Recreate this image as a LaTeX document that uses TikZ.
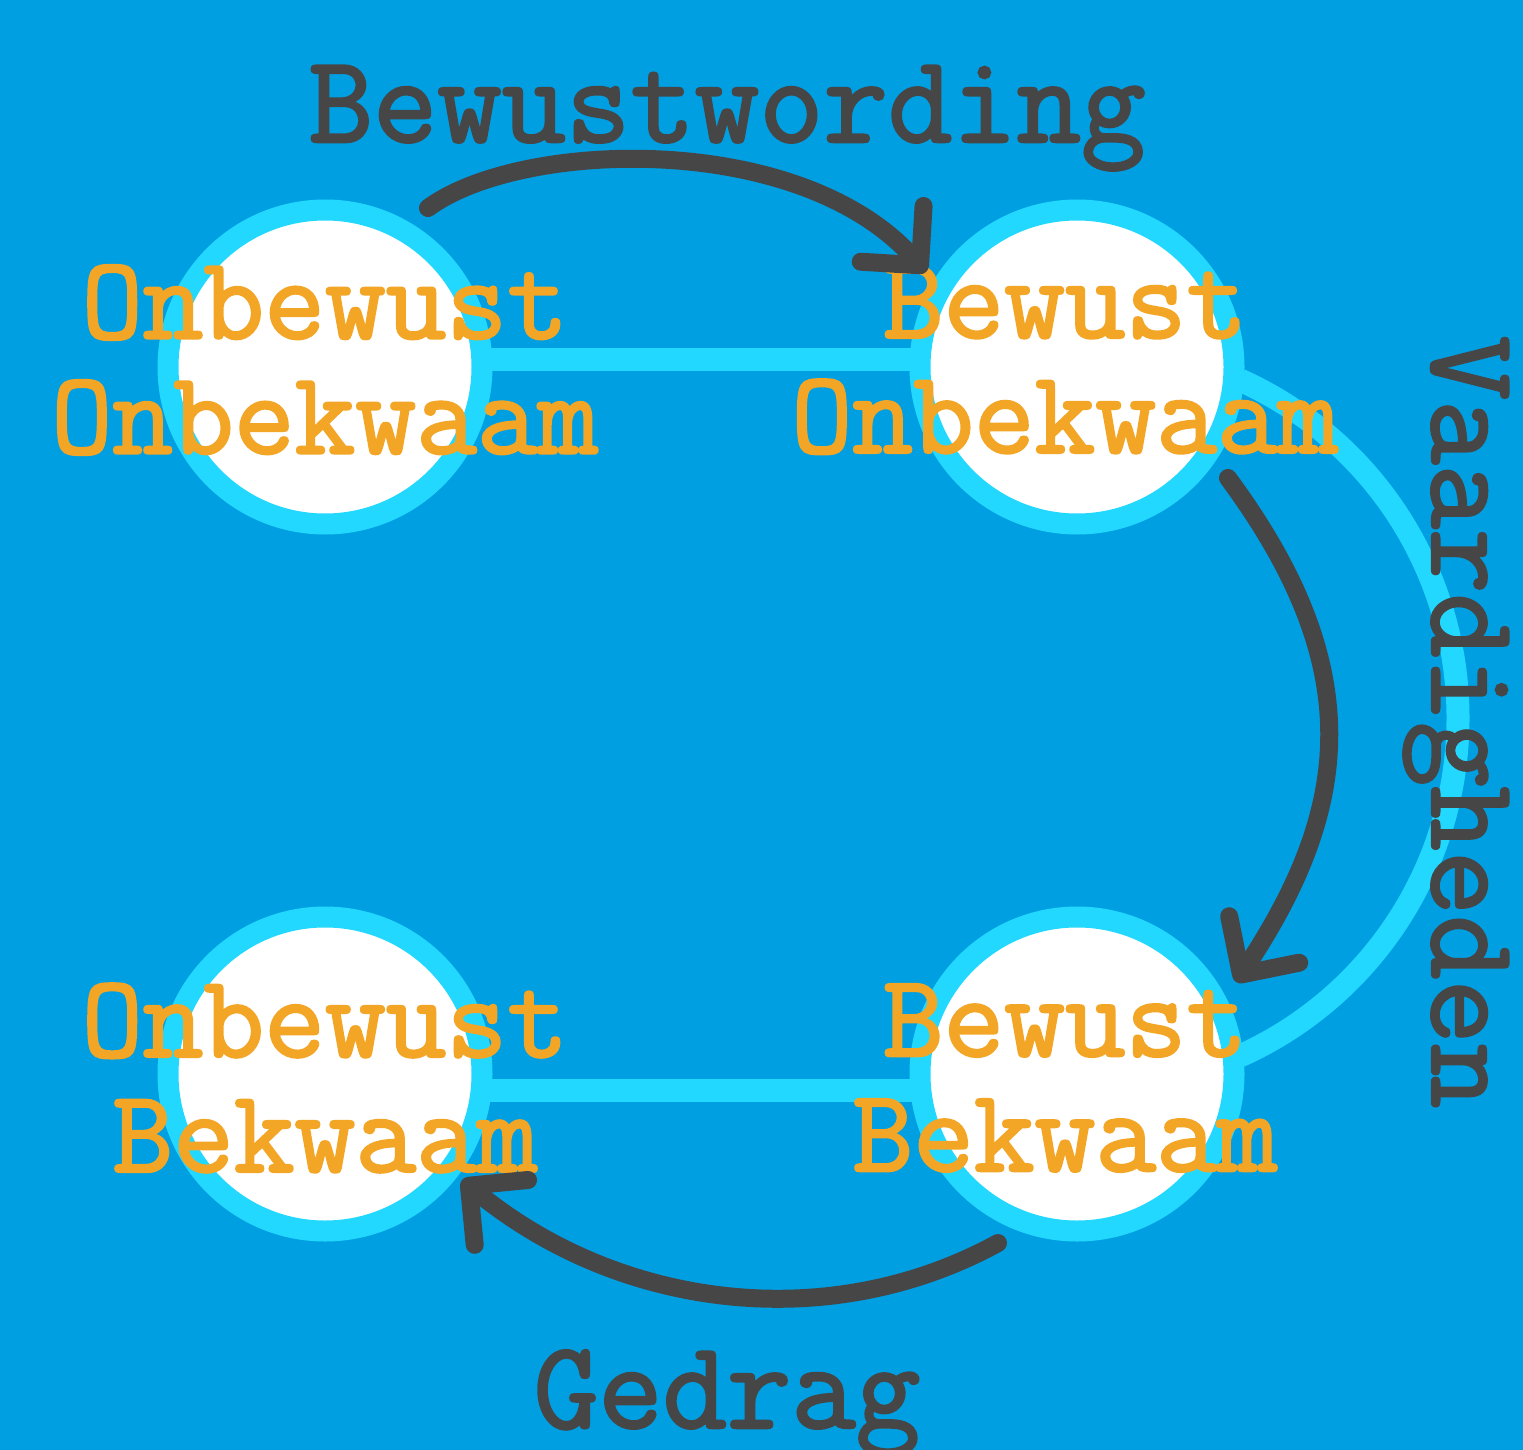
\documentclass[tikz,border=0pt]{standalone}
\usepackage{fontspec}
\usetikzlibrary{arrows.meta}
\definecolor{bg}{HTML}{009FE2}
\definecolor{ring}{HTML}{22D8FF}
\definecolor{lbl}{HTML}{F3A526}
\definecolor{dark}{HTML}{464646}
\newfontfamily\handfont{Latin Modern Mono}[FakeBold=2]
\pgfdeclarelayer{back}
\pgfsetlayers{back,main}
\begin{document}
\begin{tikzpicture}[x=1pt,y=-1pt,
  state/.style={circle, draw=ring, line width=21pt, fill=white, minimum size=314pt, inner sep=0pt},
  link/.style={draw=ring, line width=23pt},
  flow/.style={draw=dark, line width=18pt, line cap=round, line join=round,
    -{Straight Barb[length=42pt,width=84pt,round]}},
  lab/.style={text=lbl, font=\handfont\fontsize{118}{115}\selectfont, align=center},
  ttl/.style={text=dark, font=\handfont\fontsize{125}{125}\selectfont, anchor=base, inner sep=0pt}
]
\path[use as bounding box] (0,0) rectangle (1523,1450);
\begin{pgfonlayer}{back}
\fill[bg] (0,0) rectangle (1523,1450);
\end{pgfonlayer}

\node[state] (oo) at (325,367) {};
\node[state] (bo) at (1077,367) {};
\node[state] (ob) at (325,1074) {};
\node[state] (bb) at (1077,1074) {};

\begin{pgfonlayer}{back}
\draw[link] ([shift={(0,-8)}]oo.center) -- ([shift={(0,-8)}]bo.center);
\draw[link] ([shift={(0,16)}]ob.center) -- ([shift={(0,16)}]bb.center);
\draw[link] ([shift={(163,13)}]bo.center) .. controls (1373,440) and (1458,572) .. (1458,718)
  .. controls (1458,864) and (1373,996) .. ([shift={(163,-18)}]bb.center);
\end{pgfonlayer}

\node[lab] (l1) at (325,360) {Onbewust\\Onbekwaam};
\node[lab] (l2) at (1065,360) {Bewust\\Onbekwaam};
\node[lab] (l3) at (325,1078) {Onbewust\\Bekwaam};
\node[lab] (l4) at (1065,1078) {Bewust\\Bekwaam};

\coordinate (a1s) at (428,208);
\coordinate (a1e) at (926,272);
\coordinate (a2s) at (1228,478);
\coordinate (a2e) at (1236,982);
\coordinate (a3s) at (998,1243);
\coordinate (a3e) at (462,1180);
\draw[flow] (a1s) .. controls (520,140) and (800,130) .. (a1e);
\draw[flow] (a2s) .. controls (1370,670) and (1350,810) .. (a2e);
\draw[flow] (a3s) .. controls (830,1335) and (620,1310) .. (a3e);

\node[ttl] (tw) at (727,142) {Bewustwording};
\node[ttl] (tg) at (727,1428) {Gedrag};
\node[ttl, rotate=-90] (tv) at (1432,722) {Vaardigheden};
\end{tikzpicture}
\end{document}
